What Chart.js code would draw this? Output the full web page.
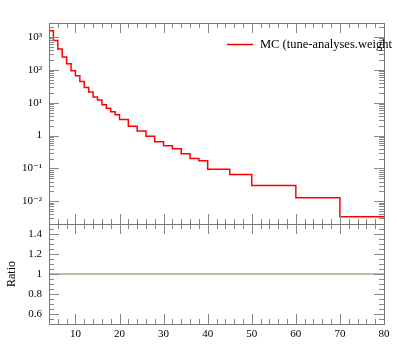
<!DOCTYPE html>
<html>
<head>
<meta charset="utf-8">
<script src="https://cdn.jsdelivr.net/npm/chart.js@4/dist/chart.umd.min.js"></script>
<style>
  html, body { margin: 0; padding: 0; background: #fff; }
  #wrap { position: relative; width: 397px; height: 358px; overflow: hidden; }
  #main { position: absolute; left: 0; top: 0; }
  #ratio { position: absolute; left: 0; top: 214px; }
</style>
</head>
<body>
<div id="wrap">
  <canvas id="main" width="397" height="230"></canvas>
  <canvas id="ratio" width="397" height="144"></canvas>
</div>
<script>
// histogram bin edges and MC values
const binEdges = [4, 5, 6, 7, 8, 9, 10, 11, 12, 13, 14, 15, 16, 17, 18, 19, 20,
    22, 24, 26, 28, 30, 32, 34, 36, 38, 40, 45, 50, 60, 70, 80];
const mcValues = [1540, 780, 428, 244, 153, 93, 66, 44, 29, 21, 15, 12, 8.7, 6.8, 5.3, 4.3,
    3.1, 1.92, 1.38, 0.95, 0.65, 0.49, 0.40, 0.28, 0.20, 0.17,
    0.094, 0.065, 0.030, 0.0128, 0.0034];
const ratioValues = mcValues.map(() => 1);

const legendLabel = 'MC (tune-analyses.weight';

const xTicks = [10, 20, 30, 40, 50, 60, 70, 80];
const yMainTicks = [0.01, 0.1, 1, 10, 100, 1000];
const yMainTickLabels = ['10⁻²', '10⁻¹', '1', '10¹', '10²', '10³'];
const yRatioTicks = [0.6, 0.8, 1, 1.2, 1.4];

const serif = '"Liberation Serif", "DejaVu Serif", serif';

// point at each left bin edge, plus closing point at the last edge
function stepPoints(values) {
    const pts = values.map((v, i) => ({ x: binEdges[i], y: v }));
    pts.push({ x: binEdges[binEdges.length - 1], y: values[values.length - 1] });
    return pts;
}

// fixed y-axis box so both panels line up
function fitY(s) {
    s.width = 49;
    s.paddingTop = 0;
    s.paddingBottom = 0;
}

// frame + inward ticks, rivet style
function drawFrame(chart, yMinor, yMajor) {
    const ctx = chart.ctx;
    const a = chart.chartArea;
    const xs = chart.scales.x;
    const ys = chart.scales.y;
    const inY = v => v >= ys.min && v <= ys.max;
    ctx.save();
    ctx.strokeStyle = '#888';
    ctx.lineWidth = 1;
    ctx.beginPath();
    for (let v = 4; v <= 80; v += 2) {
        const px = Math.round(xs.getPixelForValue(v)) + 0.5;
        const len = v % 10 === 0 ? 10 : 5;
        ctx.moveTo(px, a.bottom); ctx.lineTo(px, a.bottom - len);
        ctx.moveTo(px, a.top); ctx.lineTo(px, a.top + len);
    }
    yMinor.filter(inY).forEach(v => {
        const py = Math.round(ys.getPixelForValue(v)) + 0.5;
        ctx.moveTo(a.left, py); ctx.lineTo(a.left + 5, py);
        ctx.moveTo(a.right, py); ctx.lineTo(a.right - 5, py);
    });
    yMajor.filter(inY).forEach(v => {
        const py = Math.round(ys.getPixelForValue(v)) + 0.5;
        ctx.moveTo(a.left, py); ctx.lineTo(a.left + 10, py);
        ctx.moveTo(a.right, py); ctx.lineTo(a.right - 10, py);
    });
    ctx.stroke();
    ctx.strokeStyle = '#777';
    ctx.strokeRect(Math.round(a.left) + 0.5, Math.round(a.top) + 0.5,
        Math.round(a.right - a.left), Math.round(a.bottom - a.top));
    ctx.restore();
}

const mainMinor = [];
for (let e = -3; e <= 3; e++) {
    for (let m = 2; m <= 9; m++) mainMinor.push(m * Math.pow(10, e));
}
const ratioMinor = [];
for (let v = 0.55; v < 1.5; v += 0.05) ratioMinor.push(Math.round(v * 100) / 100);

const mainFrame = {
    id: 'mainFrame',
    afterDraw(chart) {
        drawFrame(chart, mainMinor, yMainTicks);
        const ds = chart.data.datasets[0];
        const ctx = chart.ctx;
        ctx.save();
        ctx.strokeStyle = ds.borderColor;
        ctx.lineWidth = 1.5;
        ctx.beginPath();
        ctx.moveTo(227, 44.5); ctx.lineTo(253, 44.5);
        ctx.stroke();
        ctx.fillStyle = '#000';
        ctx.font = '12.5px ' + serif;
        ctx.textBaseline = 'middle';
        ctx.fillText(ds.label, 260, 45);
        ctx.restore();
    }
};

const ratioFrame = {
    id: 'ratioFrame',
    afterDraw(chart) {
        drawFrame(chart, ratioMinor, yRatioTicks);
    }
};

new Chart(document.getElementById('main'), {
    type: 'line',
    data: {
        datasets: [{
            label: legendLabel,
            data: stepPoints(mcValues),
            stepped: 'before',
            borderColor: 'rgb(255, 0, 0)',
            borderWidth: 1.5,
            pointRadius: 0,
            fill: false
        }]
    },
    options: {
        responsive: false,
        animation: false,
        layout: { padding: { top: 23, right: 13, bottom: 6, left: 0 } },
        plugins: { legend: { display: false }, tooltip: { enabled: false } },
        scales: {
            x: { type: 'linear', min: 4, max: 80, display: false },
            y: {
                type: 'logarithmic',
                min: 0.00204,
                max: 2650,
                grid: { display: false, drawTicks: false },
                border: { display: false },
                afterBuildTicks: s => { s.ticks = yMainTicks.map(v => ({ value: v })); },
                afterFit: fitY,
                ticks: {
                    padding: 7,
                    color: '#000',
                    font: { family: serif, size: 11 },
                    callback: v => yMainTickLabels[yMainTicks.indexOf(v)]
                }
            }
        }
    },
    plugins: [mainFrame]
});

new Chart(document.getElementById('ratio'), {
    type: 'line',
    data: {
        datasets: [{
            label: 'Ratio',
            data: stepPoints(ratioValues),
            stepped: 'before',
            borderColor: 'rgb(170, 170, 120)',
            borderWidth: 1.5,
            pointRadius: 0,
            fill: false
        }]
    },
    options: {
        responsive: false,
        animation: false,
        layout: { padding: { top: 10, right: 13, bottom: 0, left: 0 } },
        plugins: { legend: { display: false }, tooltip: { enabled: false } },
        scales: {
            x: {
                type: 'linear', min: 4, max: 80,
                grid: { display: false, drawTicks: false },
                border: { display: false },
                afterBuildTicks: s => { s.ticks = xTicks.map(v => ({ value: v })); },
                afterFit: s => { s.height = 34; s.paddingLeft = 0; s.paddingRight = 0; },
                ticks: { padding: 4, color: '#000', maxRotation: 0, font: { family: serif, size: 11 } }
            },
            y: {
                min: 0.5, max: 1.5,
                grid: { display: false, drawTicks: false },
                border: { display: false },
                afterBuildTicks: s => { s.ticks = yRatioTicks.map(v => ({ value: v })); },
                afterFit: fitY,
                title: { display: true, text: 'Ratio', color: '#000', font: { family: serif, size: 12 }, padding: { top: 5, bottom: 0 } },
                ticks: { padding: 7, color: '#000', font: { family: serif, size: 11 }, callback: v => String(v) }
            }
        }
    },
    plugins: [ratioFrame]
});
</script>
</body>
</html>
